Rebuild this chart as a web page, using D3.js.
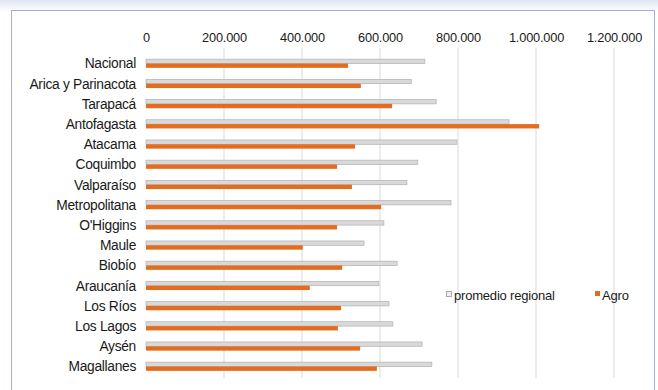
<!DOCTYPE html>
<html><head><meta charset="utf-8">
<script src="https://cdn.jsdelivr.net/npm/d3@7"></script>
<style>body{margin:0;background:#fff}svg{display:block}</style>
</head><body>
<svg id="c" width="658" height="390"></svg>
<script>
const categories = ["Nacional","Arica y Parinacota","Tarapacá","Antofagasta","Atacama","Coquimbo","Valparaíso","Metropolitana","O'Higgins","Maule","Biobío","Araucanía","Los Ríos","Los Lagos","Aysén","Magallanes"];
const promedioRegional = [715000,680000,744000,931000,797000,697000,669000,782000,610000,559000,644000,597000,623000,633000,708000,733000];
const agro = [518000,551000,631000,1008000,536000,490000,528000,603000,490000,402000,503000,420000,500000,492000,549000,592000];
const tickValues = [0,200000,400000,600000,800000,1000000,1200000];
const tickLabels = ["0","200.000","400.000","600.000","800.000","1.000.000","1.200.000"];
const seriesNames = ["promedio regional","Agro"];

const FONT = "Liberation Sans, Arial, sans-serif";
const svg = d3.select("#c");
const defs = svg.append("defs");
const g1 = defs.append("linearGradient").attr("id","sh").attr("x1",0).attr("y1",0).attr("x2",0).attr("y2",1);
g1.append("stop").attr("offset","0%").attr("stop-color","#dfe6f3");
g1.append("stop").attr("offset","100%").attr("stop-color","#ffffff");
svg.append("rect").attr("x",0).attr("y",0).attr("width",658).attr("height",12).attr("fill","url(#sh)");
svg.append("rect").attr("x",11.5).attr("y",10.5).attr("width",643).attr("height",390)
  .attr("fill","#fff").attr("stroke","#4a5fb0").attr("stroke-width",1).attr("stroke-dasharray","1,1");

const x = d3.scaleLinear().domain([0,1200000]).range([146,614]);
const y = d3.scaleBand().domain(categories).range([53.5,376.5]).paddingInner(0.57).paddingOuter(0.28);
const sub = d3.scaleBand().domain(seriesNames).range([0,y.bandwidth()]);

svg.append("g").selectAll("line").data(tickValues.slice(1)).join("line")
  .attr("x1",d=>x(d)).attr("x2",d=>x(d)).attr("y1",48).attr("y2",378)
  .attr("stroke","#d9d9d9").attr("stroke-width",1);

const ax = svg.append("g").attr("transform","translate(0,42)")
  .call(d3.axisTop(x).tickValues(tickValues).tickFormat((d,i)=>tickLabels[i]).tickSize(0).tickPadding(0));
ax.select(".domain").remove();
ax.selectAll("text").attr("font-family",FONT).attr("font-size",12.8).attr("fill","#1a1a1a").attr("letter-spacing","-0.2");

const ay = svg.append("g").attr("transform","translate(136,0)")
  .call(d3.axisLeft(y).tickSize(0).tickPadding(0));
ay.select(".domain").remove();
ay.selectAll("text").attr("font-family",FONT).attr("font-size",13.8).attr("fill","#1a1a1a").attr("dy","0.35em").attr("letter-spacing","-0.3");

const rows = svg.append("g").selectAll("g").data(categories).join("g")
  .attr("transform",d=>`translate(0,${y(d)})`);
rows.append("rect").attr("x",x(0)).attr("y",sub("promedio regional"))
  .attr("width",(d,i)=>x(promedioRegional[i])-x(0)).attr("height",sub.bandwidth())
  .attr("fill","#d9d9d9").attr("stroke","#b0b0b0").attr("stroke-width",0.7);
rows.append("rect").attr("x",x(0)).attr("y",sub("Agro"))
  .attr("width",(d,i)=>x(agro[i])-x(0)).attr("height",sub.bandwidth())
  .attr("fill","#e46c1f");

const lg = svg.append("g").attr("font-family",FONT).attr("font-size",13).attr("fill","#1a1a1a").attr("letter-spacing","-0.2");
lg.append("rect").attr("x",446.5).attr("y",291.5).attr("width",5).attr("height",5).attr("fill","#eee").attr("stroke","#aaa");
lg.append("text").attr("x",454).attr("y",299.5).text(seriesNames[0]);
lg.append("rect").attr("x",595).attr("y",291).attr("width",5).attr("height",5).attr("fill","#e46c1f");
lg.append("text").attr("x",602).attr("y",299.5).text(seriesNames[1]);
</script>
</body></html>
